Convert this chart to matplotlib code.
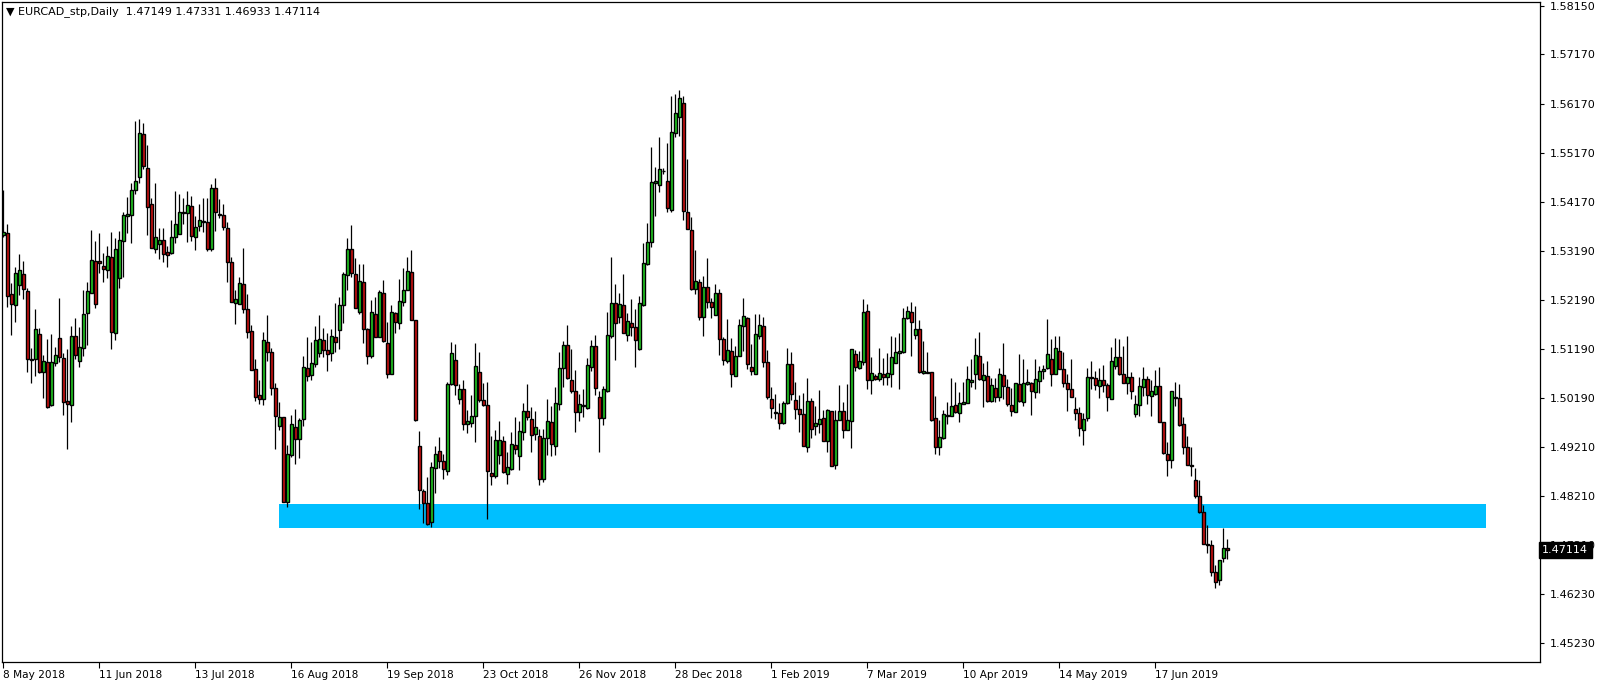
"""
EURCAD daily candles (May 2018 - Jul 2019) drawn in the MT4 chart look,
with the support zone around 1.478 marked as a filled band.
"""

import matplotlib

matplotlib.use("Agg")
import matplotlib.pyplot as plt
import matplotlib.transforms as mtransforms
from matplotlib.patches import Rectangle

SYMBOL_TITLE = "\u25bc EURCAD_stp,Daily  1.47149 1.47331 1.46933 1.47114"
LAST_PRICE = 1.47114

# OHLC, one value per daily bar, oldest first
opens = [
    1.5351, 1.5355, 1.5231, 1.5208, 1.5249, 1.5271, 1.5237, 1.5099, 1.5099, 1.5150,
    1.5073, 1.5093, 1.5006, 1.5091, 1.5141, 1.5101, 1.5014, 1.5006, 1.5146, 1.5095,
    1.5121, 1.5192, 1.5233, 1.5298, 1.5298, 1.5288, 1.5279, 1.5306, 1.5152, 1.5263,
    1.5338, 1.5389, 1.5391, 1.5442, 1.5468, 1.5555, 1.5486, 1.5413, 1.5322, 1.5332,
    1.5340, 1.5316, 1.5314, 1.5347, 1.5353, 1.5395, 1.5395, 1.5409, 1.5347, 1.5369,
    1.5377, 1.5377, 1.5322, 1.5446, 1.5393, 1.5391, 1.5365, 1.5296, 1.5212, 1.5210,
    1.5251, 1.5200, 1.5156, 1.5079, 1.5026, 1.5018, 1.5133, 1.5113, 1.5040, 1.4963,
    1.4981, 1.4809, 1.4904, 1.4961, 1.4937, 1.4977, 1.5081, 1.5067, 1.5089, 1.5111,
    1.5137, 1.5117, 1.5111, 1.5143, 1.5158, 1.5208, 1.5269, 1.5322, 1.5271, 1.5194,
    1.5255, 1.5160, 1.5105, 1.5190, 1.5143, 1.5233, 1.5131, 1.5069, 1.5192, 1.5172,
    1.5214, 1.5239, 1.5275, 1.5178, 1.4922, 1.4831, 1.4807, 1.4769, 1.4878, 1.4912,
    1.4892, 1.4872, 1.5048, 1.5097, 1.5018, 1.5038, 1.4967, 1.4969, 1.4984, 1.5073,
    1.5016, 1.5006, 1.4868, 1.4862, 1.4904, 1.4933, 1.4866, 1.4876, 1.4925, 1.4902,
    1.4951, 1.4994, 1.4977, 1.4947, 1.4943, 1.4856, 1.4939, 1.4971, 1.4922, 1.5008,
    1.5081, 1.5127, 1.5056, 1.5034, 1.4992, 1.5004, 1.5000, 1.5083, 1.5125, 1.5022,
    1.4979, 1.5034, 1.5146, 1.5212, 1.5184, 1.5208, 1.5148, 1.5172, 1.5164, 1.5119,
    1.5208, 1.5292, 1.5336, 1.5456, 1.5452, 1.5480, 1.5460, 1.5401, 1.5557, 1.5590,
    1.5618, 1.5397, 1.5361, 1.5241, 1.5255, 1.5184, 1.5245, 1.5214, 1.5188, 1.5233,
    1.5139, 1.5095, 1.5115, 1.5065, 1.5105, 1.5166, 1.5182, 1.5083, 1.5069, 1.5146,
    1.5166, 1.5093, 1.5018, 1.4992, 1.4990, 1.4969, 1.5010, 1.5089, 1.5016, 1.4998,
    1.4988, 1.4920, 1.5014, 1.4963, 1.4967, 1.4979, 1.4933, 1.4994, 1.4884, 1.4975,
    1.4994, 1.4955, 1.4973, 1.5109, 1.5081, 1.5093, 1.5196, 1.5056, 1.5065, 1.5058,
    1.5069, 1.5063, 1.5069, 1.5091, 1.5111, 1.5113, 1.5182, 1.5194, 1.5148, 1.5160,
    1.5071, 1.5073, 1.5073, 1.4979, 1.4920, 1.4939, 1.4984, 1.4984, 1.5006, 1.4990,
    1.5008, 1.5010, 1.5052, 1.5069, 1.5105, 1.5056, 1.5065, 1.5014, 1.5040, 1.5022,
    1.5067, 1.5042, 1.5006, 1.4992, 1.5048, 1.5012, 1.5048, 1.5050, 1.5032, 1.5054,
    1.5075, 1.5081, 1.5099, 1.5069, 1.5115, 1.5079, 1.5050, 1.5038, 1.4998, 1.4990,
    1.4955, 1.4979, 1.5063, 1.5060, 1.5044, 1.5056, 1.5046, 1.5018, 1.5085, 1.5103,
    1.5069, 1.5050, 1.5063, 1.4988, 1.5006, 1.5042, 1.5058, 1.5024, 1.5028, 1.5044,
    1.4971, 1.4906, 1.4894, 1.5022, 1.5020, 1.4967, 1.4920, 1.4884, 1.4854, 1.4821,
    1.4789, 1.4724, 1.4722, 1.4667, 1.4651, 1.4695, 1.47149,
]
highs = [
    1.5442, 1.5373, 1.5253, 1.5285, 1.5312, 1.5298, 1.5243, 1.5121, 1.5200, 1.5162,
    1.5107, 1.5139, 1.5150, 1.5123, 1.5222, 1.5111, 1.5119, 1.5166, 1.5182, 1.5164,
    1.5239, 1.5255, 1.5361, 1.5338, 1.5355, 1.5314, 1.5328, 1.5357, 1.5344, 1.5359,
    1.5397, 1.5427, 1.5456, 1.5582, 1.5586, 1.5578, 1.5533, 1.5425, 1.5456, 1.5365,
    1.5365, 1.5328, 1.5381, 1.5440, 1.5434, 1.5425, 1.5440, 1.5430, 1.5389, 1.5413,
    1.5425, 1.5425, 1.5454, 1.5466, 1.5423, 1.5413, 1.5377, 1.5306, 1.5239, 1.5265,
    1.5324, 1.5231, 1.5168, 1.5099, 1.5056, 1.5154, 1.5188, 1.5121, 1.5050, 1.5012,
    1.4981, 1.4925, 1.4986, 1.4998, 1.4979, 1.5105, 1.5143, 1.5133, 1.5166, 1.5188,
    1.5162, 1.5152, 1.5160, 1.5212, 1.5224, 1.5275, 1.5344, 1.5371, 1.5304, 1.5292,
    1.5292, 1.5162, 1.5218, 1.5224, 1.5239, 1.5259, 1.5174, 1.5208, 1.5194, 1.5261,
    1.5283, 1.5306, 1.5320, 1.5178, 1.4953, 1.4835, 1.4860, 1.4890, 1.4922, 1.4941,
    1.4906, 1.5052, 1.5133, 1.5129, 1.5048, 1.5056, 1.4996, 1.5026, 1.5131, 1.5113,
    1.5050, 1.5052, 1.4943, 1.4955, 1.4973, 1.4943, 1.4910, 1.4951, 1.4981, 1.4973,
    1.5010, 1.5048, 1.5002, 1.4994, 1.4957, 1.4957, 1.5018, 1.5004, 1.5042, 1.5113,
    1.5135, 1.5168, 1.5119, 1.5077, 1.5028, 1.5038, 1.5101, 1.5137, 1.5148, 1.5034,
    1.5044, 1.5194, 1.5306, 1.5251, 1.5233, 1.5271, 1.5192, 1.5220, 1.5200, 1.5226,
    1.5334, 1.5375, 1.5529, 1.5488, 1.5549, 1.5486, 1.5537, 1.5632, 1.5636, 1.5644,
    1.5632, 1.5505, 1.5387, 1.5320, 1.5261, 1.5267, 1.5304, 1.5222, 1.5251, 1.5241,
    1.5143, 1.5180, 1.5141, 1.5125, 1.5180, 1.5222, 1.5184, 1.5129, 1.5190, 1.5190,
    1.5184, 1.5117, 1.5042, 1.5028, 1.5010, 1.5014, 1.5121, 1.5113, 1.5052, 1.5026,
    1.5030, 1.5060, 1.5020, 1.5004, 1.5036, 1.4996, 1.4998, 1.4994, 1.4996, 1.5046,
    1.5012, 1.5048, 1.5119, 1.5117, 1.5115, 1.5220, 1.5210, 1.5103, 1.5069, 1.5121,
    1.5101, 1.5111, 1.5146, 1.5143, 1.5152, 1.5202, 1.5206, 1.5214, 1.5206, 1.5178,
    1.5135, 1.5113, 1.5073, 1.5024, 1.4975, 1.4996, 1.5012, 1.5060, 1.5052, 1.5032,
    1.5052, 1.5085, 1.5099, 1.5141, 1.5154, 1.5091, 1.5095, 1.5060, 1.5060, 1.5081,
    1.5131, 1.5058, 1.5040, 1.5050, 1.5109, 1.5099, 1.5079, 1.5052, 1.5099, 1.5085,
    1.5087, 1.5180, 1.5139, 1.5146, 1.5146, 1.5113, 1.5069, 1.5099, 1.5022, 1.5002,
    1.4990, 1.5081, 1.5095, 1.5075, 1.5081, 1.5087, 1.5050, 1.5123, 1.5141, 1.5139,
    1.5125, 1.5146, 1.5073, 1.5026, 1.5063, 1.5083, 1.5065, 1.5056, 1.5077, 1.5083,
    1.4971, 1.4931, 1.5034, 1.5052, 1.5048, 1.4981, 1.4943, 1.4920, 1.4878, 1.4854,
    1.4803, 1.4762, 1.4732, 1.4681, 1.4667, 1.4756, 1.47331,
]
lows = [
    1.5347, 1.5204, 1.5148, 1.5174, 1.5229, 1.5220, 1.5073, 1.5050, 1.5065, 1.5071,
    1.5020, 1.5000, 1.5004, 1.5085, 1.5093, 1.4986, 1.4916, 1.4971, 1.5099, 1.5083,
    1.5105, 1.5127, 1.5233, 1.5202, 1.5273, 1.5255, 1.5263, 1.5119, 1.5137, 1.5243,
    1.5265, 1.5355, 1.5334, 1.5434, 1.5456, 1.5484, 1.5351, 1.5324, 1.5314, 1.5302,
    1.5296, 1.5285, 1.5312, 1.5334, 1.5353, 1.5373, 1.5336, 1.5338, 1.5320, 1.5359,
    1.5357, 1.5318, 1.5318, 1.5359, 1.5385, 1.5361, 1.5255, 1.5214, 1.5170, 1.5210,
    1.5192, 1.5141, 1.5077, 1.5014, 1.5008, 1.5006, 1.5095, 1.5026, 1.4916, 1.4955,
    1.4809, 1.4799, 1.4900, 1.4886, 1.4898, 1.4963, 1.5054, 1.5056, 1.5083, 1.5103,
    1.5103, 1.5075, 1.5095, 1.5113, 1.5119, 1.5172, 1.5239, 1.5265, 1.5202, 1.5190,
    1.5131, 1.5089, 1.5101, 1.5143, 1.5143, 1.5133, 1.5060, 1.5069, 1.5152, 1.5160,
    1.5206, 1.5239, 1.5178, 1.4973, 1.4795, 1.4767, 1.4763, 1.4759, 1.4827, 1.4878,
    1.4856, 1.4864, 1.5046, 1.5026, 1.5008, 1.4955, 1.4949, 1.4961, 1.4931, 1.5012,
    1.5004, 1.4775, 1.4844, 1.4858, 1.4886, 1.4868, 1.4846, 1.4874, 1.4906, 1.4874,
    1.4935, 1.4975, 1.4910, 1.4935, 1.4844, 1.4850, 1.4904, 1.4902, 1.4904, 1.4996,
    1.5042, 1.5058, 1.5030, 1.4951, 1.4973, 1.4981, 1.4998, 1.5075, 1.5026, 1.4910,
    1.4965, 1.5032, 1.5141, 1.5097, 1.5172, 1.5152, 1.5135, 1.5146, 1.5083, 1.5117,
    1.5206, 1.5290, 1.5326, 1.5389, 1.5438, 1.5474, 1.5397, 1.5397, 1.5549, 1.5551,
    1.5381, 1.5363, 1.5239, 1.5231, 1.5178, 1.5146, 1.5202, 1.5182, 1.5188, 1.5107,
    1.5087, 1.5091, 1.5042, 1.5065, 1.5105, 1.5115, 1.5079, 1.5067, 1.5069, 1.5139,
    1.5083, 1.5018, 1.4979, 1.4977, 1.4957, 1.4967, 1.5008, 1.5016, 1.4977, 1.4951,
    1.4922, 1.4910, 1.4939, 1.4945, 1.4949, 1.4933, 1.4910, 1.4882, 1.4876, 1.4975,
    1.4939, 1.4955, 1.4918, 1.5075, 1.5079, 1.5087, 1.5038, 1.5028, 1.5056, 1.5054,
    1.5046, 1.5046, 1.5042, 1.5091, 1.5038, 1.5111, 1.5180, 1.5105, 1.5139, 1.5071,
    1.5069, 1.5071, 1.4973, 1.4906, 1.4904, 1.4937, 1.4967, 1.4984, 1.4990, 1.4971,
    1.5008, 1.5010, 1.5042, 1.5038, 1.5056, 1.5002, 1.5012, 1.5012, 1.5012, 1.5014,
    1.5018, 1.5004, 1.4984, 1.4992, 1.5012, 1.5004, 1.5046, 1.4986, 1.5020, 1.5030,
    1.5058, 1.5079, 1.5044, 1.5069, 1.5079, 1.5042, 1.4994, 1.5022, 1.4975, 1.4943,
    1.4925, 1.4973, 1.5038, 1.5036, 1.5020, 1.5032, 1.4994, 1.5018, 1.5079, 1.5067,
    1.5050, 1.5028, 1.5018, 1.4981, 1.4984, 1.5024, 1.5008, 1.4984, 1.5026, 1.4971,
    1.4906, 1.4862, 1.4878, 1.5004, 1.4963, 1.4906, 1.4884, 1.4862, 1.4817, 1.4787,
    1.4724, 1.4706, 1.4659, 1.4635, 1.4641, 1.4687, 1.46933,
]
closes = [
    1.5357, 1.5226, 1.5210, 1.5273, 1.5279, 1.5241, 1.5099, 1.5097, 1.5160, 1.5073,
    1.5095, 1.5002, 1.5093, 1.5107, 1.5103, 1.5012, 1.5008, 1.5146, 1.5107, 1.5123,
    1.5190, 1.5237, 1.5300, 1.5210, 1.5294, 1.5281, 1.5308, 1.5154, 1.5322, 1.5340,
    1.5391, 1.5393, 1.5442, 1.5460, 1.5557, 1.5490, 1.5407, 1.5324, 1.5347, 1.5340,
    1.5312, 1.5310, 1.5347, 1.5373, 1.5397, 1.5397, 1.5411, 1.5349, 1.5367, 1.5381,
    1.5379, 1.5322, 1.5446, 1.5397, 1.5391, 1.5367, 1.5296, 1.5214, 1.5220, 1.5253,
    1.5200, 1.5154, 1.5077, 1.5022, 1.5018, 1.5137, 1.5113, 1.5040, 1.4984, 1.4981,
    1.4809, 1.4906, 1.4967, 1.4937, 1.4975, 1.5083, 1.5065, 1.5091, 1.5137, 1.5139,
    1.5117, 1.5109, 1.5146, 1.5133, 1.5208, 1.5271, 1.5322, 1.5273, 1.5202, 1.5257,
    1.5160, 1.5105, 1.5194, 1.5143, 1.5235, 1.5135, 1.5069, 1.5194, 1.5174, 1.5216,
    1.5239, 1.5277, 1.5178, 1.4975, 1.4833, 1.4807, 1.4765, 1.4880, 1.4906, 1.4892,
    1.4876, 1.5048, 1.5111, 1.5046, 1.5038, 1.4967, 1.4973, 1.4984, 1.5085, 1.5016,
    1.5006, 1.4872, 1.4862, 1.4935, 1.4935, 1.4870, 1.4880, 1.4927, 1.4916, 1.4953,
    1.4994, 1.4981, 1.4945, 1.4961, 1.4856, 1.4939, 1.4973, 1.4927, 1.5010, 1.5081,
    1.5127, 1.5060, 1.5034, 1.4992, 1.5008, 1.5006, 1.5087, 1.5125, 1.5040, 1.4979,
    1.5038, 1.5148, 1.5212, 1.5172, 1.5210, 1.5152, 1.5176, 1.5164, 1.5137, 1.5212,
    1.5294, 1.5336, 1.5458, 1.5460, 1.5484, 1.5480, 1.5405, 1.5559, 1.5598, 1.5628,
    1.5399, 1.5363, 1.5241, 1.5257, 1.5184, 1.5245, 1.5214, 1.5204, 1.5233, 1.5139,
    1.5097, 1.5117, 1.5069, 1.5105, 1.5168, 1.5186, 1.5089, 1.5075, 1.5150, 1.5168,
    1.5093, 1.5022, 1.5000, 1.4990, 1.4969, 1.5010, 1.5089, 1.5028, 1.4998, 1.4988,
    1.4922, 1.5014, 1.4957, 1.4969, 1.4977, 1.4933, 1.4996, 1.4882, 1.4975, 1.4994,
    1.4955, 1.4975, 1.5119, 1.5083, 1.5095, 1.5194, 1.5056, 1.5071, 1.5058, 1.5071,
    1.5063, 1.5071, 1.5103, 1.5113, 1.5115, 1.5182, 1.5196, 1.5174, 1.5160, 1.5073,
    1.5075, 1.5071, 1.4975, 1.4920, 1.4941, 1.4988, 1.4986, 1.5004, 1.4992, 1.5010,
    1.5012, 1.5058, 1.5056, 1.5107, 1.5058, 1.5067, 1.5014, 1.5046, 1.5022, 1.5069,
    1.5044, 1.5008, 1.4994, 1.5050, 1.5014, 1.5050, 1.5052, 1.5034, 1.5058, 1.5075,
    1.5079, 1.5109, 1.5069, 1.5121, 1.5079, 1.5050, 1.5038, 1.5022, 1.4990, 1.4959,
    1.4977, 1.5063, 1.5060, 1.5046, 1.5056, 1.5046, 1.5022, 1.5095, 1.5103, 1.5069,
    1.5050, 1.5063, 1.5034, 1.5008, 1.5044, 1.5058, 1.5026, 1.5034, 1.5044, 1.4971,
    1.4908, 1.4894, 1.5034, 1.5020, 1.4965, 1.4920, 1.4884, 1.4882, 1.4821, 1.4789,
    1.4724, 1.4722, 1.4667, 1.4647, 1.4691, 1.4716, 1.47114,
]

# bottom time axis: one label every 24 bars
date_bars = [0, 24, 48, 72, 96, 120, 144, 168, 192, 216, 240, 264, 288]
date_labels = [
    "8 May 2018", "11 Jun 2018", "13 Jul 2018", "16 Aug 2018", "19 Sep 2018",
    "23 Oct 2018", "26 Nov 2018", "28 Dec 2018", "1 Feb 2019", "7 Mar 2019",
    "10 Apr 2019", "14 May 2019", "17 Jun 2019",
]

# right price scale as printed by the terminal
price_ticks = [
    1.58150, 1.57170, 1.56170, 1.55170, 1.54170, 1.53190, 1.52190,
    1.51190, 1.50190, 1.49210, 1.48210, 1.47210, 1.46230, 1.45230,
]

# support zone drawn on the chart (bar span and price band)
zone_first_bar = 68.9
zone_last_bar = 370.7
zone_top = 1.4805
zone_bottom = 1.4756

BULL = "#22cc22"
BEAR = "#cc1111"
ZONE = "#00bfff"


def draw_candles(ax):
    n = len(opens)
    xs = list(range(n))
    ax.vlines(xs, lows, highs, color="black", linewidth=0.9, zorder=2)
    bottoms = [min(o, c) for o, c in zip(opens, closes)]
    heights = [abs(c - o) for o, c in zip(opens, closes)]
    colors = [BULL if c >= o else BEAR for o, c in zip(opens, closes)]
    ax.bar(
        xs, heights, bottom=bottoms, width=0.72, color=colors,
        edgecolor="black", linewidth=1.0, zorder=3,
    )


def main():
    plt.rcParams["font.family"] = "DejaVu Sans"
    fig = plt.figure(figsize=(16.04, 6.86), dpi=100)
    ax = fig.add_axes([2 / 1604, 24 / 686, 1538 / 1604, 660 / 686])

    ax.add_patch(
        Rectangle(
            (zone_first_bar, zone_bottom), zone_last_bar - zone_first_bar,
            zone_top - zone_bottom, facecolor=ZONE, edgecolor="none", zorder=1,
        )
    )
    draw_candles(ax)

    ax.set_xlim(-0.3, 384.2)
    ax.set_ylim(1.44844, 1.58231)

    for side in ax.spines.values():
        side.set_color("black")
        side.set_linewidth(0.9)

    ax.yaxis.tick_right()
    ax.set_yticks(price_ticks)
    ax.set_yticklabels([f"{p:.5f}" for p in price_ticks])
    ax.tick_params(axis="y", direction="out", length=3, width=0.8, pad=4,
                   labelsize=8, colors="black")

    ax.set_xticks(date_bars)
    ax.set_xticklabels(date_labels)
    ax.tick_params(axis="x", direction="out", length=4, width=0.8, pad=2,
                   labelsize=7.6, colors="black")
    for lbl in ax.get_xticklabels():
        lbl.set_horizontalalignment("left")

    # current price marker on the scale, drawn over the 1.47210 label
    trans = mtransforms.blended_transform_factory(ax.transAxes, ax.transData)
    ax.text(1.0015, LAST_PRICE, "1.47114", transform=trans, ha="left",
            va="center", fontsize=8, color="white", zorder=10, clip_on=False,
            bbox=dict(boxstyle="square,pad=0.3", facecolor="black",
                      edgecolor="black"))

    fig.text(6 / 1604, 1 - 12 / 686, SYMBOL_TITLE, ha="left", va="center",
             fontsize=8, color="black")

    fig.savefig("out.png", dpi=100, facecolor="white")
    plt.close(fig)


if __name__ == "__main__":
    main()
